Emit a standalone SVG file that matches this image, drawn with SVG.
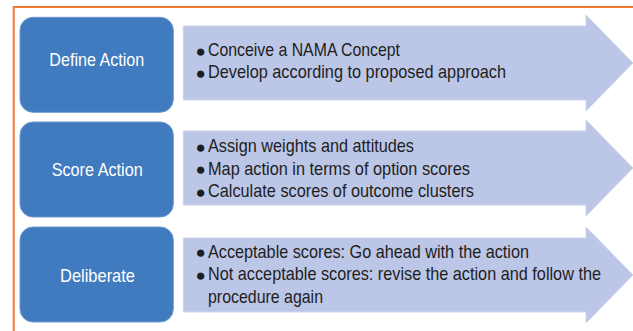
<svg xmlns="http://www.w3.org/2000/svg" width="633" height="331" viewBox="0 0 633 331">
  <style>
    .frame { fill: none; stroke: #EF7A30; stroke-width: 2; }
    .step { fill: #3F7BBE; stroke: #6C98CF; stroke-width: 1; }
    .step-label { font-family: "Liberation Sans Narrow", "Liberation Sans", Arial, sans-serif; font-size: 18.5px; fill: #FFFFFF; text-anchor: middle; }
    .band { fill: #BCC6E6; stroke: #CDD4EE; stroke-width: 1; }
    .item { font-family: "Liberation Sans Narrow", "Liberation Sans", Arial, sans-serif; font-size: 19px; fill: #1E1E1E; }
    .dot { font-family: "Liberation Sans", "DejaVu Sans", Arial, sans-serif; font-size: 17px; fill: #1E1E1E; text-anchor: middle; }
  </style>

  <!-- orange frame: top and left edges only -->
  <path class="frame" d="M13.7 331 V7 H633"/>

  <!-- connectors: the broad arrows carrying each step's details -->
  <g id="connectors">
    <polygon class="band" points="183.3,26 586,26 586,15 633,63 586,111 586,100 183.3,100"/>
    <polygon class="band" points="183.3,131 586,131 586,120 633,168 586,216 586,205 183.3,205"/>
    <polygon class="band" points="183.3,238 586,238 586,227 633,275 586,323 586,312 183.3,312"/>
  </g>

  <!-- step 1 -->
  <g id="define-action">
    <rect class="step" x="20" y="17.3" width="153.3" height="95" rx="13" ry="13"/>
    <text class="step-label" x="96.8" y="65.7" textLength="95" lengthAdjust="spacingAndGlyphs">Define Action</text>
  </g>
  <g id="define-action-details">
    <text class="dot" x="200.7" y="56.8">●</text>
    <text class="item" x="208" y="56" textLength="192" lengthAdjust="spacingAndGlyphs">Conceive a NAMA Concept</text>
    <text class="dot" x="200.7" y="78.8">●</text>
    <text class="item" x="208" y="78" textLength="298" lengthAdjust="spacingAndGlyphs">Develop according to proposed approach</text>
  </g>

  <!-- step 2 -->
  <g id="score-action">
    <rect class="step" x="20" y="122" width="153.3" height="95" rx="13" ry="13"/>
    <text class="step-label" x="97.2" y="176" textLength="91" lengthAdjust="spacingAndGlyphs">Score Action</text>
  </g>
  <g id="score-action-details">
    <text class="dot" x="200.7" y="153.1">●</text>
    <text class="item" x="208" y="152.3" textLength="206" lengthAdjust="spacingAndGlyphs">Assign weights and attitudes</text>
    <text class="dot" x="200.7" y="175.3">●</text>
    <text class="item" x="208" y="174.5" textLength="262" lengthAdjust="spacingAndGlyphs">Map action in terms of option scores</text>
    <text class="dot" x="200.7" y="197.5">●</text>
    <text class="item" x="208" y="196.7" textLength="266" lengthAdjust="spacingAndGlyphs">Calculate scores of outcome clusters</text>
  </g>

  <!-- step 3 -->
  <g id="deliberate">
    <rect class="step" x="20" y="227" width="153.3" height="95" rx="13" ry="13"/>
    <text class="step-label" x="97.5" y="281.7" textLength="75" lengthAdjust="spacingAndGlyphs">Deliberate</text>
  </g>
  <g id="deliberate-details">
    <text class="dot" x="200.7" y="258.3">●</text>
    <text class="item" x="208" y="257.5" textLength="321" lengthAdjust="spacingAndGlyphs">Acceptable scores: Go ahead with the action</text>
    <text class="dot" x="200.7" y="280.8">●</text>
    <text class="item" x="208" y="280" textLength="393" lengthAdjust="spacingAndGlyphs">Not acceptable scores: revise the action and follow the</text>
    <text class="item" x="208" y="302.5" textLength="115" lengthAdjust="spacingAndGlyphs">procedure again</text>
  </g>
</svg>
